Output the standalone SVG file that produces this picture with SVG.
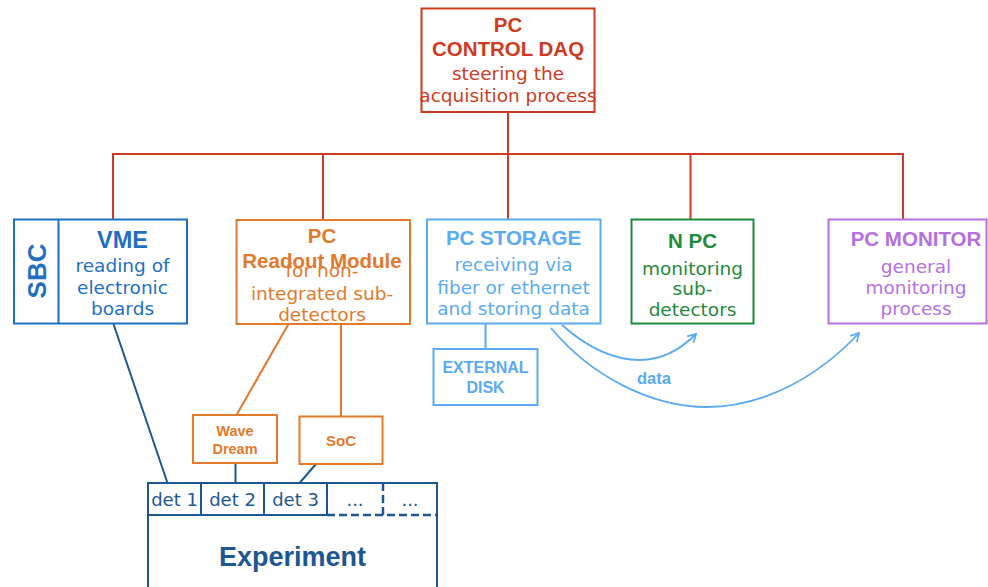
<svg xmlns="http://www.w3.org/2000/svg" width="988" height="587" viewBox="0 0 988 587">
  <defs>
    <style>
      .box { fill: #ffffff; stroke-width: 2; }
      .t { font-family: "DejaVu Sans", sans-serif; font-size: 18.5px; text-anchor: middle; }
      .b { font-family: "Liberation Sans", Arial, sans-serif; font-weight: bold; font-size: 20.5px; text-anchor: middle; }
      .red { stroke: #cf3a22; fill: none; }
      .redT { fill: #cf3a22; }
      .vme { stroke: #1f6fc2; }
      .vmeT { fill: #1f6fc2; }
      .org { stroke: #e3792b; }
      .orgT { fill: #e3792b; }
      .sto { stroke: #5aabf2; }
      .stoT { fill: #5aabf2; }
      .grn { stroke: #1e8a3b; }
      .grnT { fill: #1e8a3b; }
      .pur { stroke: #b56fe2; }
      .purT { fill: #b56fe2; }
      .exp { stroke: #1d5792; }
      .expT { fill: #1d5792; }
      .wire { stroke-width: 2; fill: none; }
    </style>
    <marker id="chev" markerUnits="userSpaceOnUse" markerWidth="12" markerHeight="12" viewBox="-10 -6 12 12" refX="0" refY="0" orient="auto">
      <path d="M-8,-4.5 L0,0 L-8,4.5" fill="none" stroke="#5aabf2" stroke-width="1.8"/>
    </marker>
  </defs>

  <!-- connectors -->
  <g id="connectors">
    <!-- control bus -->
    <path class="red wire" d="M508,112 V154 M113,219 V154 H903 V219 M323,154 V219 M508,154 V219 M690.5,154 V219"/>
    <!-- storage to external disk -->
    <path class="sto wire" d="M485.5,323 V349"/>
    <!-- data flow -->
    <path class="sto wire" style="stroke-width:1.8" d="M562,325 C590,350 615,360 640,360 C662,360 680,350 696,334" marker-end="url(#chev)"/>
    <path class="sto wire" style="stroke-width:1.8" d="M551,328 C590,375 650,407 707,407 C765,407 820,375 859,333" marker-end="url(#chev)"/>
    <!-- readout module to boards -->
    <path class="org wire" d="M288.5,324 L236.5,415 M341,324 V416.5"/>
    <!-- boards and VME to detectors -->
    <path class="exp wire" d="M113.5,324 L167.5,483 M235.5,463 V483 M316,464 L299.5,483"/>
  </g>

  <!-- PC CONTROL DAQ -->
  <g id="control">
    <rect class="box red" x="421.5" y="8.5" width="173" height="103.5"/>
    <text class="b redT" x="508" y="31.5">PC</text>
    <text class="b redT" x="508" y="55.5">CONTROL DAQ</text>
    <text class="t redT" x="508" y="80">steering the</text>
    <text class="t redT" x="508" y="102">acquisition process</text>
  </g>

  <!-- SBC / VME -->
  <g id="vme">
    <rect class="box vme" x="14" y="219.5" width="173" height="104"/>
    <line class="vme" stroke-width="2" x1="58.5" y1="219.5" x2="58.5" y2="323.5"/>
    <text class="b vmeT" style="font-size:26px" transform="translate(45.5,271) rotate(-90)" x="0" y="0">SBC</text>
    <text class="b vmeT" style="font-size:23.5px" x="122.5" y="247.5">VME</text>
    <text class="t vmeT" x="122.5" y="271.5">reading of</text>
    <text class="t vmeT" x="122.5" y="293.5">electronic</text>
    <text class="t vmeT" x="122.5" y="314.5">boards</text>
  </g>

  <!-- PC Readout Module -->
  <g id="readout">
    <rect class="box org" x="236.5" y="220" width="173.5" height="104"/>
    <text class="b orgT" x="322" y="242.5">PC</text>
    <text class="t orgT" x="322" y="277">for non-</text>
    <text class="t orgT" x="322" y="300">integrated sub-</text>
    <text class="t orgT" x="322" y="321">detectors</text>
    <text class="b orgT" x="322" y="267.5">Readout Module</text>
  </g>

  <!-- PC STORAGE -->
  <g id="storage">
    <rect class="box sto" x="427" y="219.5" width="173.5" height="104"/>
    <text class="b stoT" x="513.5" y="244.5">PC STORAGE</text>
    <text class="t stoT" x="513.5" y="271">receiving via</text>
    <text class="t stoT" x="513.5" y="293.5">fiber or ethernet</text>
    <text class="t stoT" x="513.5" y="315">and storing data</text>
  </g>

  <!-- EXTERNAL DISK -->
  <g id="disk">
    <rect class="box sto" x="433.5" y="349" width="104" height="56"/>
    <text class="b stoT" style="font-size:16px" x="485.5" y="372.5">EXTERNAL</text>
    <text class="b stoT" style="font-size:16px" x="485.5" y="392.5">DISK</text>
  </g>

  <!-- N PC -->
  <g id="npc">
    <rect class="box grn" x="631.5" y="219.5" width="122" height="104"/>
    <text class="b grnT" x="692.5" y="247.5">N PC</text>
    <text class="t grnT" x="692.5" y="274.5">monitoring</text>
    <text class="t grnT" x="692.5" y="295">sub-</text>
    <text class="t grnT" x="692.5" y="316">detectors</text>
  </g>

  <!-- PC MONITOR -->
  <g id="monitor">
    <rect class="box pur" x="828.5" y="219.5" width="158" height="104"/>
    <text class="b purT" x="916" y="246">PC MONITOR</text>
    <text class="t purT" x="916" y="272.5">general</text>
    <text class="t purT" x="916" y="294">monitoring</text>
    <text class="t purT" x="916" y="315">process</text>
  </g>

  <!-- data label -->
  <text class="b stoT" style="font-size:16.5px" x="654" y="383.5">data</text>

  <!-- Wave Dream -->
  <g id="wavedream">
    <rect class="box org" x="193" y="415" width="84" height="48"/>
    <text class="b orgT" style="font-size:14.5px" x="235" y="436">Wave</text>
    <text class="b orgT" style="font-size:14.5px" x="235" y="454">Dream</text>
  </g>

  <!-- SoC -->
  <g id="soc">
    <rect class="box org" x="299.5" y="416.5" width="83" height="47.5"/>
    <text class="b orgT" style="font-size:15px" x="341" y="446">SoC</text>
  </g>

  <!-- Experiment -->
  <g id="experiment">
    <path class="exp" stroke-width="2" fill="#ffffff" d="M148,483 H437 V595 H148 Z"/>
    <path class="exp" stroke-width="2" fill="none" d="M148,515 H327 M201,483 V515 M264,483 V515 M327,483 V515"/>
    <path class="exp" stroke-width="2.5" fill="none" stroke-dasharray="8,4" d="M327,515 H437 M383,483 V515"/>
    <text class="t expT" style="font-size:18px" x="174.5" y="506">det 1</text>
    <text class="t expT" style="font-size:18px" x="232.5" y="506">det 2</text>
    <text class="t expT" style="font-size:18px" x="295.5" y="506">det 3</text>
    <text class="t expT" style="font-size:18px" x="355" y="506">...</text>
    <text class="t expT" style="font-size:18px" x="410" y="506">...</text>
    <text class="b expT" style="font-size:27px" x="292.5" y="566">Experiment</text>
  </g>
</svg>
